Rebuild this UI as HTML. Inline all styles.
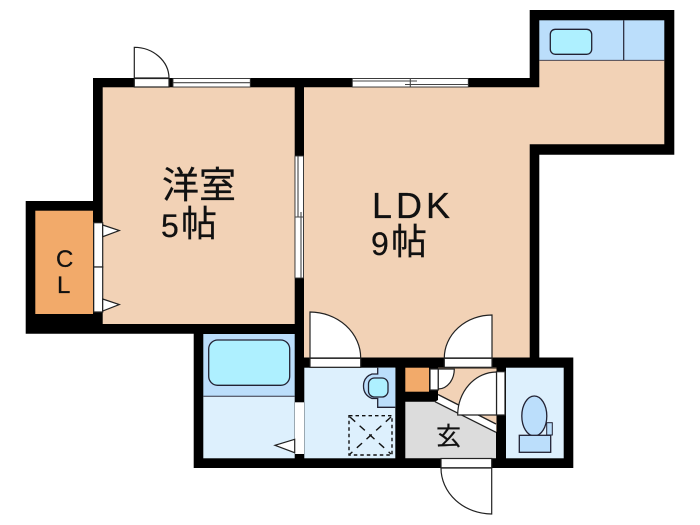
<!DOCTYPE html>
<html>
<head>
<meta charset="utf-8">
<style>
html,body{margin:0;padding:0;background:#fff}
svg{display:block}
text{fill:#111;stroke:#111;stroke-width:0.25}
.j{font-family:"Liberation Sans","Noto Sans CJK JP",sans-serif}
</style>
</head>
<body>
<svg width="700" height="525" viewBox="0 0 700 525" xmlns="http://www.w3.org/2000/svg">
<rect width="700" height="525" fill="#fff"/>
<!-- walls -->
<polygon points="93,78 529.7,78 529.7,10 674.3,10 674.3,154.7 539.3,154.7 539.3,357.5 573.3,357.5 573.3,468 193.7,468 193.7,333.7 25.7,333.7 25.7,201 93,201" fill="#000"/>
<!-- rooms -->
<rect x="102.7" y="87.3" width="192" height="236.7" fill="#f2d2b6"/>
<polygon points="304,87.3 539.3,87.3 539.3,60.3 664.3,60.3 664.3,144.3 529.7,144.3 529.7,357.5 304,357.5" fill="#f2d2b6"/>
<rect x="35.3" y="210.7" width="57.7" height="103.3" fill="#f2aa6a"/>
<rect x="539.3" y="20.3" width="125" height="40" fill="#bbdefb"/>
<line x1="623.7" y1="20.3" x2="623.7" y2="60.3" stroke="#223" stroke-width="1.2"/>
<line x1="539.3" y1="60.3" x2="664.3" y2="60.3" stroke="#334" stroke-width="0.8"/>
<rect x="550.3" y="29.3" width="41.4" height="25" rx="5" fill="#aef0ff" stroke="#223" stroke-width="1.3"/>
<!-- bath -->
<rect x="203.3" y="334" width="91.4" height="62.3" fill="#bbdefb"/>
<rect x="203.3" y="396.3" width="91.4" height="62" fill="#ddf0fd"/>
<line x1="203.3" y1="396.3" x2="294.7" y2="396.3" stroke="#334" stroke-width="1"/>
<rect x="208.7" y="340" width="81" height="45.3" rx="9" fill="#aef0ff" stroke="#223" stroke-width="1.3"/>
<!-- washroom -->
<rect x="304.3" y="367.7" width="91" height="90.6" fill="#ddf0fd"/>
<rect x="377.7" y="367.7" width="17.6" height="39.6" fill="#bbdefb"/>
<path d="M377.7,367.7V374H372Q363.5,377 363.5,386Q363.5,395 372,398.5H377.7V407.3H395.3" fill="#bbdefb" stroke="#223" stroke-width="1.3"/>
<rect x="368.5" y="378" width="19.5" height="19" rx="6" fill="#aef0ff" stroke="#223" stroke-width="1.3"/>
<rect x="349" y="415.7" width="43" height="39.3" fill="none" stroke="#111" stroke-width="1.4" stroke-dasharray="3.5 3"/>
<path d="M350,417L391,454M391,417L350,454" fill="none" stroke="#111" stroke-width="1.4" stroke-dasharray="7 6"/>
<!-- storage orange -->
<rect x="405.3" y="367.7" width="23.7" height="24" fill="#f2aa6a"/>
<!-- entry hall -->
<polygon points="438,367.7 496.5,367.7 496.5,432 438,400" fill="#f2d2b6"/>
<polygon points="438,394.5 496,424 496,432.3 435,401.7 438,400" fill="#fff"/>
<polygon points="405.3,401.7 435,401.7 496,432.3 496,458.3 405.3,458.3" fill="#dcdcdc"/>
<line x1="438" y1="394.5" x2="496" y2="424" stroke="#222" stroke-width="1.3"/>
<line x1="435" y1="401.7" x2="496" y2="432.3" stroke="#222" stroke-width="1.3"/>
<rect x="438" y="367.7" width="58.5" height="1.2" fill="#765"/>
<!-- toilet -->
<rect x="506" y="367.7" width="57.7" height="90.6" fill="#ddf0fd"/>
<rect x="546.7" y="422.7" width="5.6" height="12.3" fill="#bbdefb" stroke="#223" stroke-width="1"/>
<ellipse cx="534.3" cy="416" rx="12.5" ry="20" fill="#bbdefb" stroke="#223" stroke-width="1.3"/>
<rect x="519.3" y="435.3" width="31.4" height="17" fill="#bbdefb" stroke="#223" stroke-width="1.3"/>
<!-- windows -->
<g fill="#fff" stroke="#333" stroke-width="0.9">
<rect x="173" y="78.5" width="77.3" height="8.5"/>
<rect x="352.3" y="78.5" width="116" height="8.5"/>
<rect x="295" y="156" width="8.5" height="122"/>
</g>
<g stroke="#444" stroke-width="1.1" fill="none">
<path d="M173,82.7H250"/>
<path d="M352.3,81H417M405,84.5H468.3M410.3,78V87"/>
<path d="M298,156V217M301,212V278M295,217H304"/>
</g>
<!-- doors -->
<g fill="#fff" stroke="#222" stroke-width="1.2">
<rect x="134.3" y="78.5" width="34.7" height="8.5"/>
<path d="M134.3,78V47.3A35,31 0 0 1 169,78Z"/>
<rect x="93.7" y="222.7" width="9" height="44.3"/>
<rect x="93.7" y="267" width="9" height="45"/>
<polygon points="102.7,225 119.3,230.5 102.7,236.7"/>
<polygon points="102.7,299 119.3,304.5 102.7,311"/>
<rect x="295" y="402.3" width="9" height="51.7" stroke="none"/>
<polygon points="294.7,439.3 275,445.3 294.7,452.7"/>
<rect x="310" y="358.3" width="50.7" height="9" />
<path d="M310,358V312A51,46 0 0 1 360.7,358Z"/>
<rect x="444.3" y="358.3" width="47.7" height="9"/>
<path d="M492,358V315A48,43 0 0 0 444.3,358Z"/>
<rect x="441" y="458.5" width="50.7" height="9.3"/>
<path d="M491.7,468V514A51,46 0 0 1 441,468Z"/>
<rect x="430" y="369" width="8.3" height="21"/>
<path d="M438.3,369H454.3A16,20 0 0 1 438.3,389Z"/>
<rect x="496.5" y="371.7" width="8.5" height="43.3"/>
<path d="M496.5,372A39,43 0 0 0 457.7,415H496.5Z"/>
</g>
<!-- labels -->
<text class="j" x="162" y="198" font-size="37">洋室</text>
<text class="j" x="161" y="237" font-size="32">5</text>
<text class="j" x="181" y="236" font-size="36">帖</text>
<text class="j" x="372" y="218" font-size="36" letter-spacing="4">LDK</text>
<text class="j" x="371" y="255" font-size="32">9</text>
<text class="j" x="391" y="254" font-size="36">帖</text>
<text class="j" x="56" y="267" font-size="24">C</text>
<text class="j" x="57" y="293" font-size="24">L</text>
<text class="j" x="436" y="445" font-size="25">玄</text>
</svg>
</body>
</html>
